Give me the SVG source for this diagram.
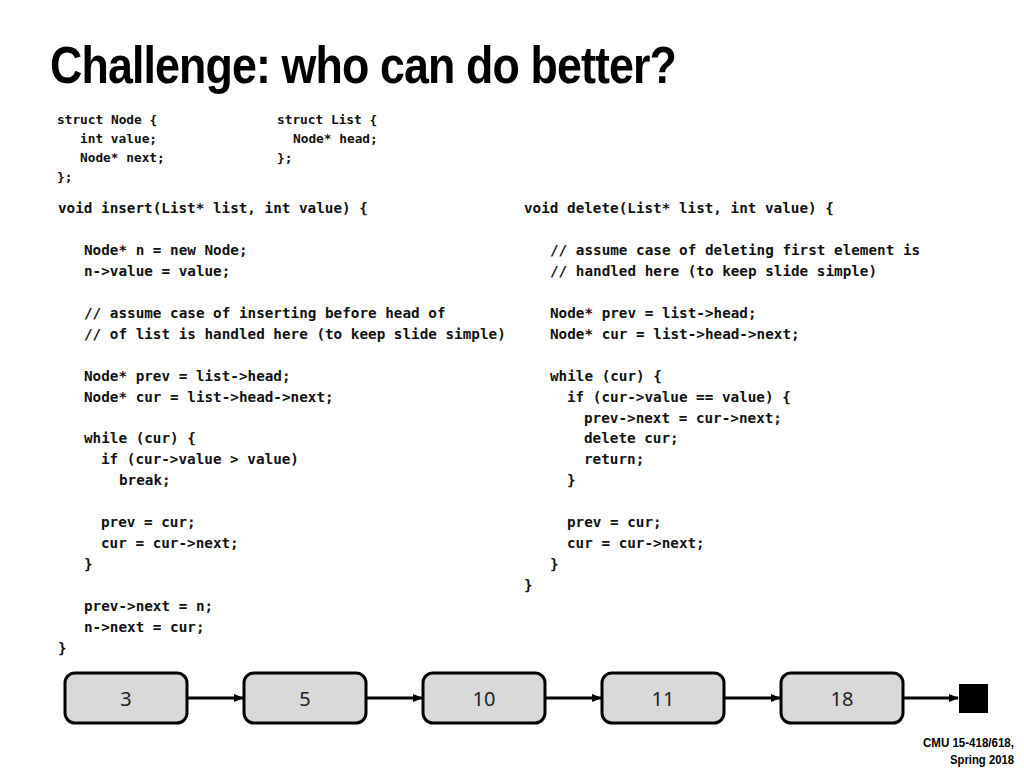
<svg xmlns="http://www.w3.org/2000/svg" width="1024" height="768" viewBox="0 0 1024 768">
<defs>
<marker id="ah" markerWidth="10" markerHeight="8" refX="9" refY="4" orient="auto" markerUnits="userSpaceOnUse"><path d="M0,0 L10,4 L0,8 z" fill="#000"/></marker>
<style>
.c{font-family:"DejaVu Sans Mono","Liberation Mono",monospace;font-weight:bold;font-size:14.3px;fill:#111}
.s{font-family:"DejaVu Sans Mono","Liberation Mono",monospace;font-weight:bold;font-size:12.8px;fill:#111}
.box{fill:#d9d9d9;stroke:#000;stroke-width:3}
.lbl{font-family:"Noto Sans","Open Sans",sans-serif;font-size:20px;fill:#222;text-anchor:middle}
.f{font-family:"Liberation Sans",sans-serif;font-weight:bold;font-size:13px;text-anchor:end;fill:#000}
</style>
</defs>
<rect width="1024" height="768" fill="#fff"/>
<text x="50" y="83" font-family="Liberation Sans,sans-serif" font-weight="bold" font-size="52" textLength="626" lengthAdjust="spacingAndGlyphs" letter-spacing="-1">Challenge: who can do better?</text>
<g class="s">
<text x="57" y="124">struct Node {</text>
<text x="80" y="143">int value;</text>
<text x="80" y="162">Node* next;</text>
<text x="57" y="181">};</text>
<text x="277" y="124">struct List {</text>
<text x="293" y="143">Node* head;</text>
<text x="277" y="162">};</text>
</g>
<g class="c">
<text x="58" y="213">void insert(List* list, int value) {</text>
<text x="84" y="255">Node* n = new Node;</text>
<text x="84" y="276">n-&gt;value = value;</text>
<text x="84" y="318">// assume case of inserting before head of</text>
<text x="84" y="339">// of list is handled here (to keep slide simple)</text>
<text x="84" y="381">Node* prev = list-&gt;head;</text>
<text x="84" y="402">Node* cur = list-&gt;head-&gt;next;</text>
<text x="84" y="443">while (cur) {</text>
<text x="101" y="464">if (cur-&gt;value &gt; value)</text>
<text x="119" y="485">break;</text>
<text x="101" y="527">prev = cur;</text>
<text x="101" y="548">cur = cur-&gt;next;</text>
<text x="84" y="569">}</text>
<text x="84" y="611">prev-&gt;next = n;</text>
<text x="84" y="632">n-&gt;next = cur;</text>
<text x="58" y="653">}</text>
<text x="524" y="213">void delete(List* list, int value) {</text>
<text x="550" y="255">// assume case of deleting first element is</text>
<text x="550" y="276">// handled here (to keep slide simple)</text>
<text x="550" y="318">Node* prev = list-&gt;head;</text>
<text x="550" y="339">Node* cur = list-&gt;head-&gt;next;</text>
<text x="550" y="381">while (cur) {</text>
<text x="567" y="402">if (cur-&gt;value == value) {</text>
<text x="584" y="423">prev-&gt;next = cur-&gt;next;</text>
<text x="584" y="443">delete cur;</text>
<text x="584" y="464">return;</text>
<text x="567" y="485">}</text>
<text x="567" y="527">prev = cur;</text>
<text x="567" y="548">cur = cur-&gt;next;</text>
<text x="550" y="569">}</text>
<text x="524" y="590">}</text>
</g>
<g id="connectors" stroke="#000" stroke-width="3" marker-end="url(#ah)">
<line x1="187" y1="698" x2="243" y2="698"/>
<line x1="366" y1="698" x2="422" y2="698"/>
<line x1="545" y1="698" x2="601" y2="698"/>
<line x1="724" y1="698" x2="780" y2="698"/>
<line x1="903" y1="698" x2="958" y2="698"/>
</g>
<g id="n3"><rect class="box" x="65" y="673" width="122" height="50" rx="10"/><text class="lbl" x="126" y="706">3</text></g>
<g id="n5"><rect class="box" x="244" y="673" width="122" height="50" rx="10"/><text class="lbl" x="305" y="706">5</text></g>
<g id="n10"><rect class="box" x="423" y="673" width="122" height="50" rx="10"/><text class="lbl" x="484" y="706">10</text></g>
<g id="n11"><rect class="box" x="602" y="673" width="122" height="50" rx="10"/><text class="lbl" x="663" y="706">11</text></g>
<g id="n18"><rect class="box" x="781" y="673" width="122" height="50" rx="10"/><text class="lbl" x="842" y="706">18</text></g>
<g id="null"><rect x="959" y="684" width="29" height="29" fill="#000"/></g>
<text class="f" x="1014" y="747" textLength="91" lengthAdjust="spacingAndGlyphs">CMU 15-418/618,</text>
<text class="f" x="1014" y="764" textLength="64" lengthAdjust="spacingAndGlyphs">Spring 2018</text>
</svg>
